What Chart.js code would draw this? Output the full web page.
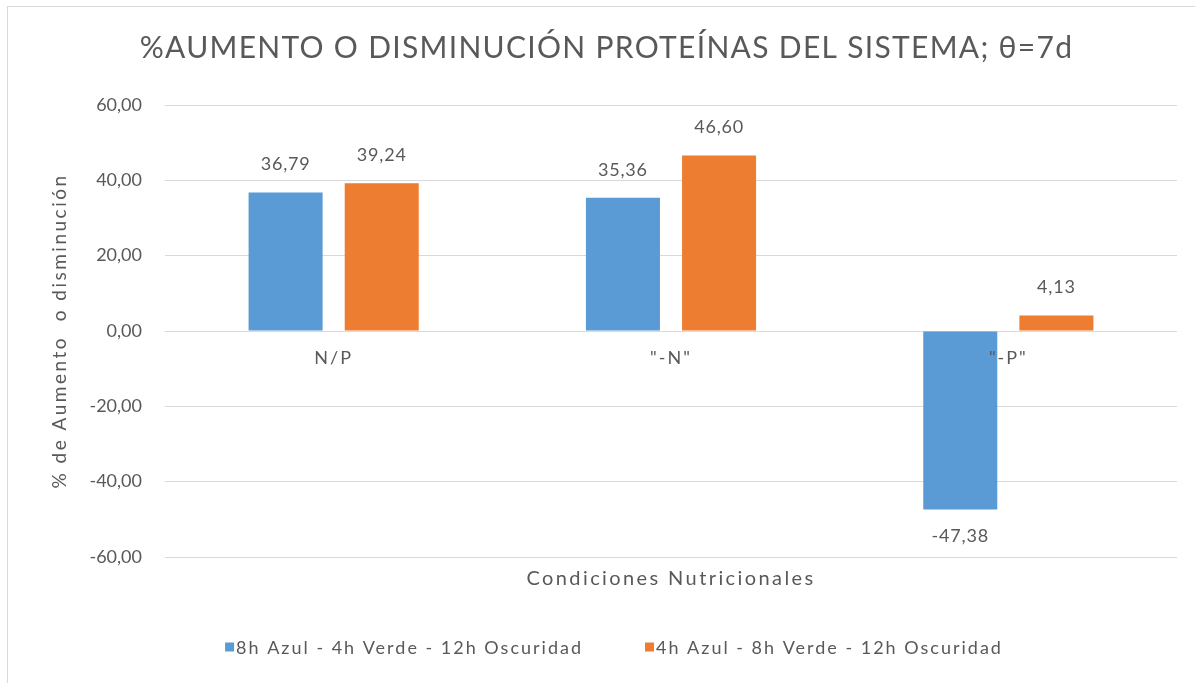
<!DOCTYPE html>
<html>
<head>
<meta charset="utf-8">
<script src="https://cdn.jsdelivr.net/npm/chart.js@4.4.1/dist/chart.umd.min.js"></script>
<style>
  html, body { margin: 0; padding: 0; background: #fff; overflow: hidden; }
  #wrap { position: relative; width: 1195px; height: 683px; }
  #frame { position: absolute; left: 7px; top: 6px; width: 1300px; height: 800px; border: 1px solid #d9d9d9; box-sizing: border-box; }
  canvas { position: absolute; left: 0; top: 0; }
</style>
</head>
<body>
<div id="wrap">
  <div id="frame"></div>
  <canvas id="myChart" width="1195" height="683"></canvas>
</div>
<script>
var categories = ["N/P", "\"-N\"", "\"-P\""];
var seriesNames = ["8h Azul - 4h Verde - 12h Oscuridad", "4h Azul - 8h Verde - 12h Oscuridad"];
var blueValues = [36.79, 35.36, -47.38];
var orangeValues = [39.24, 46.60, 4.13];
var yTicks = [-60, -40, -20, 0, 20, 40, 60];

var textColor = "#595959";
var gridColor = "#d9d9d9";
var fontFamily = "Lato, Calibri, sans-serif";

function fmt(v) {
    return v.toFixed(2).replace(".", ",");
}

// wrap a draw method so its text gets some letter spacing (excel text runs wide)
function spaced(obj, name, sp) {
    var fn = obj[name];
    obj[name] = function () {
        var c = this.ctx;
        var old = c.letterSpacing;
        c.letterSpacing = sp;
        fn.apply(this, arguments);
        c.letterSpacing = old;
    };
}

var spacing = {
    id: "spacing",
    beforeDraw: function (chart) {
        if (chart._spaced) return;
        chart._spaced = true;
        spaced(chart.titleBlock, "draw", "1.3px");
        spaced(chart.scales.x, "drawTitle", "2.4px");
        spaced(chart.scales.y, "drawTitle", "2.5px");
        spaced(chart.scales.x2, "drawLabels", "2px");
    },
};

// value labels above / below each bar
var valueLabels = {
    id: "valueLabels",
    afterDatasetsDraw: function (chart) {
        var ctx = chart.ctx;
        ctx.save();
        ctx.font = "18px " + fontFamily;
        ctx.letterSpacing = "0.8px";
        ctx.fillStyle = textColor;
        ctx.textAlign = "center";
        ctx.textBaseline = "middle";
        chart.data.datasets.forEach(function (ds, i) {
            var meta = chart.getDatasetMeta(i);
            meta.data.forEach(function (bar, j) {
                var v = ds.data[j];
                var y = v >= 0 ? bar.y - 28 : bar.y + 27;
                ctx.fillText(fmt(v), bar.x, y);
            });
        });
        ctx.restore();
    },
};

// excel-like legend row under the axis title
var bottomLegend = {
    id: "bottomLegend",
    afterDraw: function (chart) {
        var ctx = chart.ctx;
        var box = 9, gapBox = 2, gapItem = 62;
        ctx.save();
        ctx.font = "18px " + fontFamily;
        ctx.letterSpacing = "2px";
        ctx.textBaseline = "middle";
        var items = chart.data.datasets.map(function (ds) {
            return { text: ds.label, color: ds.backgroundColor, w: ctx.measureText(ds.label).width };
        });
        var total = 0;
        items.forEach(function (it, i) {
            total += box + gapBox + it.w + (i ? gapItem : 0);
        });
        var x = 614 - total / 2;
        var y = 648;
        items.forEach(function (it) {
            ctx.fillStyle = it.color;
            ctx.fillRect(x, y - box / 2 - 1, box, box);
            ctx.fillStyle = textColor;
            ctx.fillText(it.text, x + box + gapBox, y);
            x += box + gapBox + it.w + gapItem;
        });
        ctx.restore();
    },
};

var ctx = document.getElementById("myChart").getContext("2d");
var myBarChart = new Chart(ctx, {
    type: "bar",
    data: {
        labels: categories,
        datasets: [
            { label: seriesNames[0], data: blueValues, backgroundColor: "#5b9bd5", categoryPercentage: 0.57, barPercentage: 0.77 },
            { label: seriesNames[1], data: orangeValues, backgroundColor: "#ed7d31", categoryPercentage: 0.57, barPercentage: 0.77 },
        ],
    },
    plugins: [spacing, valueLabels, bottomLegend],
    options: {
        responsive: false,
        animation: false,
        layout: { padding: { left: 18, right: 0, top: 0, bottom: 92 } },
        plugins: {
            legend: { display: false },
            tooltip: { enabled: false },
            title: {
                display: true,
                text: "%AUMENTO O DISMINUCIÓN PROTEÍNAS DEL SISTEMA; θ=7d",
                color: textColor,
                font: { family: fontFamily, size: 30, weight: "normal" },
                padding: { top: 30, bottom: 39 },
            },
        },
        scales: {
            x: {
                position: "bottom",
                grid: { display: false, drawTicks: false },
                border: { display: false },
                ticks: { display: false },
                title: {
                    display: true,
                    text: "Condiciones Nutricionales",
                    color: textColor,
                    font: { family: fontFamily, size: 20 },
                    padding: { top: 10, bottom: 0 },
                },
            },
            x2: {
                type: "category",
                labels: categories,
                position: { y: 0 },
                offset: true,
                grid: { display: false, drawTicks: false },
                border: { display: false },
                ticks: {
                    z: 1,
                    color: textColor,
                    font: { family: fontFamily, size: 18 },
                    padding: 16,
                    maxRotation: 0,
                    autoSkip: false,
                },
            },
            y: {
                position: "left",
                min: -60,
                max: 60,
                afterFit: function (s) { s.width = 147; },
                afterBuildTicks: function (s) {
                    s.ticks = yTicks.map(function (v) { return { value: v }; });
                },
                grid: { color: gridColor, lineWidth: 1, drawTicks: false },
                border: { display: false },
                ticks: {
                    color: textColor,
                    font: { family: fontFamily, size: 18 },
                    padding: 23,
                    callback: function (v) { return fmt(v); },
                },
                title: {
                    display: true,
                    text: "% de Aumento  o disminución",
                    color: textColor,
                    font: { family: fontFamily, size: 19 },
                    padding: { top: 30, bottom: 0 },
                },
            },
            y2: {
                type: "linear",
                position: "right",
                display: true,
                afterFit: function (s) { s.width = 18; },
                grid: { display: false },
                border: { display: false },
                ticks: { display: false },
            },
        },
    },
});
</script>
</body>
</html>
